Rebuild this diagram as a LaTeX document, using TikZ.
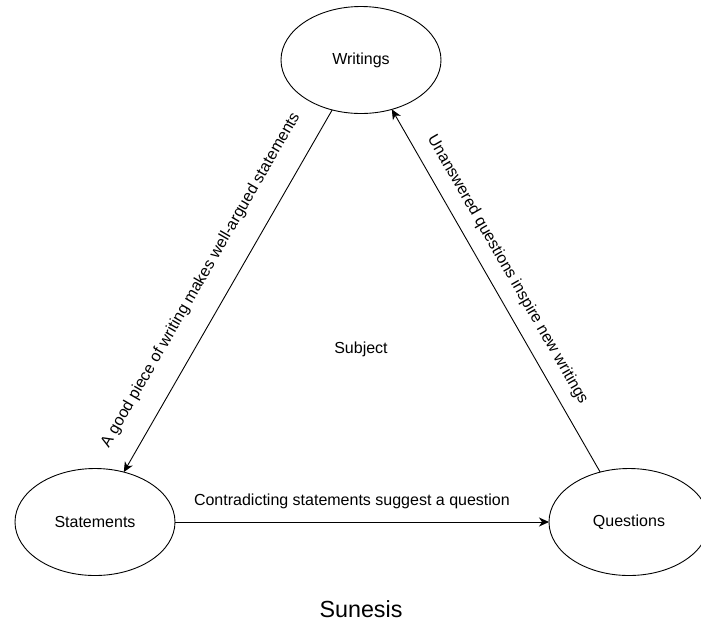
\documentclass[tikz,border=0pt]{standalone}
\usepackage{fontspec}
\setmainfont{Liberation Sans}
\usetikzlibrary{shapes.geometric,positioning,arrows.meta}

\begin{document}
\begin{tikzpicture}[x=1pt,y=-1pt,on grid,line width=0.9pt,
   >={Stealth[length=10pt,width=9pt,inset=3pt]},
   font=\fontsize{16}{19}\selectfont,
   idea/.style={ellipse,draw,minimum width=160pt,minimum height=107pt,inner sep=0pt,outer sep=0pt},
   note/.style={inner sep=0pt,sloped}]
   \useasboundingbox (0,0) rectangle (701,625);
   \node[idea] (writings) at (361,60) {Writings};
   \node[idea] (statements) [below left=462pt and 266pt of writings] {Statements};
   \node[idea] (questions) [below right=462pt and 268pt of writings] {Questions};
   \node (subject) at (361,349) {Subject};
   \node (sunesis) [anchor=base,font=\fontsize{23.3}{28}\selectfont] at (361,617) {Sunesis};
   \path[->]
        (statements.60) edge[<-] node[note,pos=0.49,above=21pt] {A good piece of writing makes well-argued statements} (writings.240)
        (writings.302) edge[<-] node[note,pos=0.47,above=12.5pt] {Unanswered questions inspire new writings} (questions.120)
        (statements) edge node[note,pos=0.473,above=12.5pt] {Contradicting statements suggest a question} (questions)
        ;
\end{tikzpicture}
\end{document}
